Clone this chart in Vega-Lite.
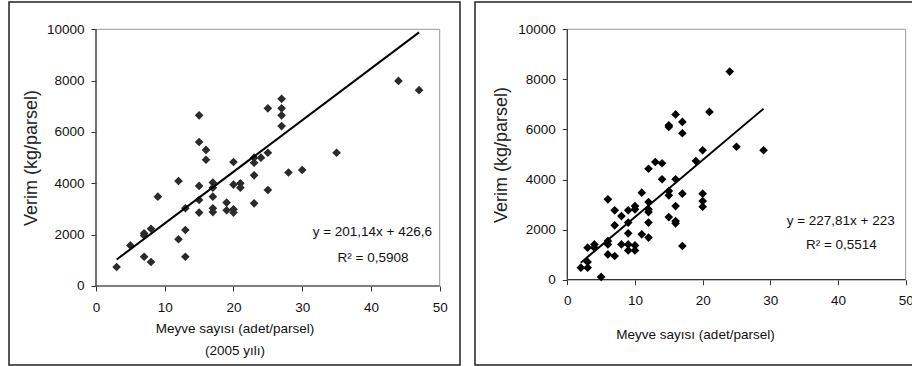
{
  "$schema": "https://vega.github.io/schema/vega-lite/v6.json",
  "padding": {"left": 8, "top": 1, "right": 0, "bottom": 2},
  "spacing": 13,
  "background": "white",
  "config": {
    "view": {"stroke": "#222", "strokeWidth": 1.5},
    "font": "Liberation Sans",
    "axis": {
      "domain": false, "grid": false, "tickColor": "#333", "tickSize": 5, "tickWidth": 1, "format": "d",
      "labelFont": "Liberation Sans", "labelFontSize": 13.5, "labelColor": "#111", "labelFlush": false, "labelOverlap": false,
      "titleFont": "Liberation Sans", "titleFontWeight": "normal", "titleColor": "#111"
    }
  },
  "datasets": {
    "left": [
      {"x":3,"y":740},{"x":5,"y":1580},{"x":7,"y":2050},{"x":7,"y":1970},{"x":7,"y":1140},{"x":8,"y":2230},{"x":8,"y":935},{"x":9,"y":3480},
      {"x":12,"y":4090},{"x":12,"y":1820},{"x":13,"y":3030},{"x":13,"y":2180},{"x":13,"y":1140},
      {"x":15,"y":6650},{"x":15,"y":5610},{"x":15,"y":3900},{"x":15,"y":3350},{"x":15,"y":2860},
      {"x":16,"y":5300},{"x":16,"y":4920},{"x":17,"y":4030},{"x":17,"y":3830},{"x":17,"y":3480},{"x":17,"y":3030},{"x":17,"y":2880},
      {"x":19,"y":3250},{"x":19,"y":2950},{"x":20,"y":4830},{"x":20,"y":3950},{"x":20,"y":2990},{"x":20,"y":2860},
      {"x":21,"y":4000},{"x":21,"y":3830},{"x":23,"y":5000},{"x":23,"y":4800},{"x":23,"y":4310},{"x":23,"y":3220},{"x":24,"y":5000},
      {"x":25,"y":6920},{"x":25,"y":5190},{"x":25,"y":3740},{"x":27,"y":7290},{"x":27,"y":6920},{"x":27,"y":6650},{"x":27,"y":6230},
      {"x":28,"y":4420},{"x":30,"y":4520},{"x":35,"y":5190},{"x":44,"y":7990},{"x":47,"y":7630}
    ],
    "leftFit": [{"x":3,"y":1030},{"x":47,"y":9880}],
    "right": [
      {"x":2,"y":480},{"x":3,"y":710},{"x":3,"y":480},{"x":3,"y":1280},{"x":4,"y":1410},{"x":4,"y":1280},{"x":5,"y":110},
      {"x":6,"y":3210},{"x":6,"y":1545},{"x":6,"y":1410},{"x":6,"y":1010},{"x":7,"y":2770},{"x":7,"y":2170},{"x":7,"y":945},
      {"x":8,"y":2540},{"x":8,"y":1410},{"x":9,"y":2770},{"x":9,"y":2280},{"x":9,"y":1850},{"x":9,"y":1410},{"x":9,"y":1170},
      {"x":10,"y":2940},{"x":10,"y":2810},{"x":10,"y":1370},{"x":10,"y":1170},{"x":11,"y":3475},{"x":11,"y":1810},
      {"x":12,"y":4430},{"x":12,"y":3100},{"x":12,"y":2810},{"x":12,"y":2700},{"x":12,"y":2280},{"x":12,"y":1680},
      {"x":13,"y":4700},{"x":14,"y":4650},{"x":14,"y":4010},{"x":15,"y":6165},{"x":15,"y":6100},{"x":15,"y":3540},{"x":15,"y":3370},{"x":15,"y":2500},
      {"x":16,"y":6600},{"x":16,"y":4010},{"x":16,"y":2940},{"x":16,"y":2340},{"x":16,"y":2250},
      {"x":17,"y":6300},{"x":17,"y":5850},{"x":17,"y":3435},{"x":17,"y":1345},{"x":19,"y":4740},
      {"x":20,"y":5170},{"x":20,"y":3435},{"x":20,"y":3140},{"x":20,"y":2915},{"x":21,"y":6700},{"x":24,"y":8310},{"x":25,"y":5310},{"x":29,"y":5170}
    ],
    "rightFit": [{"x":2,"y":679},{"x":29,"y":6830}]
  },
  "hconcat": [
    {
      "width": 451, "height": 363,
      "layer": [
        {"data": {"values": [{"k": 1}]}, "mark": {"type": "rect", "fill": "white", "fillOpacity": 0, "stroke": "#999", "strokeWidth": 1},
         "encoding": {"x": {"datum": 0, "type": "quantitative"}, "x2": {"datum": 50}, "y": {"datum": 0, "type": "quantitative"}, "y2": {"datum": 10000}}},
        {"data": {"values": [{"k": 1}]}, "mark": {"type": "rule", "color": "#333", "strokeWidth": 1.2},
         "encoding": {"x": {"datum": 0, "type": "quantitative"}, "x2": {"datum": 50}, "y": {"datum": 0, "type": "quantitative"}}},
        {"data": {"values": [{"k": 1}]}, "mark": {"type": "rule", "color": "#333", "strokeWidth": 1.2},
         "encoding": {"x": {"datum": 0, "type": "quantitative"}, "y": {"datum": 0, "type": "quantitative"}, "y2": {"datum": 10000}}},
        {"data": {"name": "left"},
         "mark": {"type": "point", "shape": "diamond", "filled": true, "size": 75, "color": "#2a2a2a", "opacity": 1},
         "encoding": {
          "x": {"field": "x", "type": "quantitative",
            "scale": {"domain": [-12.657, 52.953], "nice": false, "zero": false},
            "axis": {"values": [0,10,20,30,40,50], "offset": -79, "labelPadding": 9, "title": ["Meyve sayısı (adet/parsel)", "(2005 yılı)"], "titleFontSize": 13.5, "titleLineHeight": 22, "titlePadding": 8}},
          "y": {"field": "y", "type": "quantitative",
            "scale": {"domain": [-3078, 11064], "nice": false, "zero": false},
            "axis": {"values": [0,2000,4000,6000,8000,10000], "offset": -87, "labelPadding": 7, "title": "Verim (kg/parsel)", "titleFontSize": 18, "titleColor": "#222", "titlePadding": 6, "titleY": 155.5}}
         }},
        {"data": {"name": "leftFit"},
         "mark": {"type": "line", "color": "#000", "strokeWidth": 2},
         "encoding": {"x": {"field": "x", "type": "quantitative"}, "y": {"field": "y", "type": "quantitative"}}},
        {"data": {"values": [{"k": 1}]}, "mark": {"type": "text", "fontSize": 13.5, "color": "#111", "align": "center", "baseline": "middle", "text": "y = 201,14x + 426,6"},
         "encoding": {"x": {"datum": 40.2, "type": "quantitative"}, "y": {"datum": 2104, "type": "quantitative"}}},
        {"data": {"values": [{"k": 1}]}, "mark": {"type": "text", "fontSize": 13.5, "color": "#111", "align": "center", "baseline": "middle", "text": "R² = 0,5908"},
         "encoding": {"x": {"datum": 40.3, "type": "quantitative"}, "y": {"datum": 1091, "type": "quantitative"}}}
      ]
    },
    {
      "width": 440, "height": 363,
      "layer": [
        {"data": {"values": [{"k": 1}]}, "mark": {"type": "rect", "fill": "white", "fillOpacity": 0, "stroke": "#999", "strokeWidth": 1},
         "encoding": {"x": {"datum": 0, "type": "quantitative"}, "x2": {"datum": 50}, "y": {"datum": 0, "type": "quantitative"}, "y2": {"datum": 10000}}},
        {"data": {"values": [{"k": 1}]}, "mark": {"type": "rule", "color": "#333", "strokeWidth": 1.2},
         "encoding": {"x": {"datum": 0, "type": "quantitative"}, "x2": {"datum": 50}, "y": {"datum": 0, "type": "quantitative"}}},
        {"data": {"values": [{"k": 1}]}, "mark": {"type": "rule", "color": "#333", "strokeWidth": 1.2},
         "encoding": {"x": {"datum": 0, "type": "quantitative"}, "y": {"datum": 0, "type": "quantitative"}, "y2": {"datum": 10000}}},
        {"data": {"name": "right"},
         "mark": {"type": "point", "shape": "diamond", "filled": true, "size": 75, "color": "#000", "opacity": 1},
         "encoding": {
          "x": {"field": "x", "type": "quantitative",
            "scale": {"domain": [-13.638, 51.374], "nice": false, "zero": false},
            "axis": {"values": [0,10,20,30,40,50], "offset": -85.3, "labelPadding": 9, "title": "Meyve sayısı (adet/parsel)", "titleFontSize": 13.5, "titlePadding": 20}},
          "y": {"field": "y", "type": "quantitative",
            "scale": {"domain": [-3407, 11090], "nice": false, "zero": false},
            "axis": {"values": [0,2000,4000,6000,8000,10000], "offset": -92.3, "labelPadding": 7, "title": "Verim (kg/parsel)", "titleFontSize": 18, "titleColor": "#222", "titlePadding": 7, "titleY": 152.5}}
         }},
        {"data": {"name": "rightFit"},
         "mark": {"type": "line", "color": "#000", "strokeWidth": 2},
         "encoding": {"x": {"field": "x", "type": "quantitative"}, "y": {"field": "y", "type": "quantitative"}}},
        {"data": {"values": [{"k": 1}]}, "mark": {"type": "text", "fontSize": 13.5, "color": "#111", "align": "center", "baseline": "middle", "text": "y = 227,81x + 223"},
         "encoding": {"x": {"datum": 40.4, "type": "quantitative"}, "y": {"datum": 2344, "type": "quantitative"}}},
        {"data": {"values": [{"k": 1}]}, "mark": {"type": "text", "fontSize": 13.5, "color": "#111", "align": "center", "baseline": "middle", "text": "R² = 0,5514"},
         "encoding": {"x": {"datum": 40.5, "type": "quantitative"}, "y": {"datum": 1374, "type": "quantitative"}}}
      ]
    }
  ]
}
